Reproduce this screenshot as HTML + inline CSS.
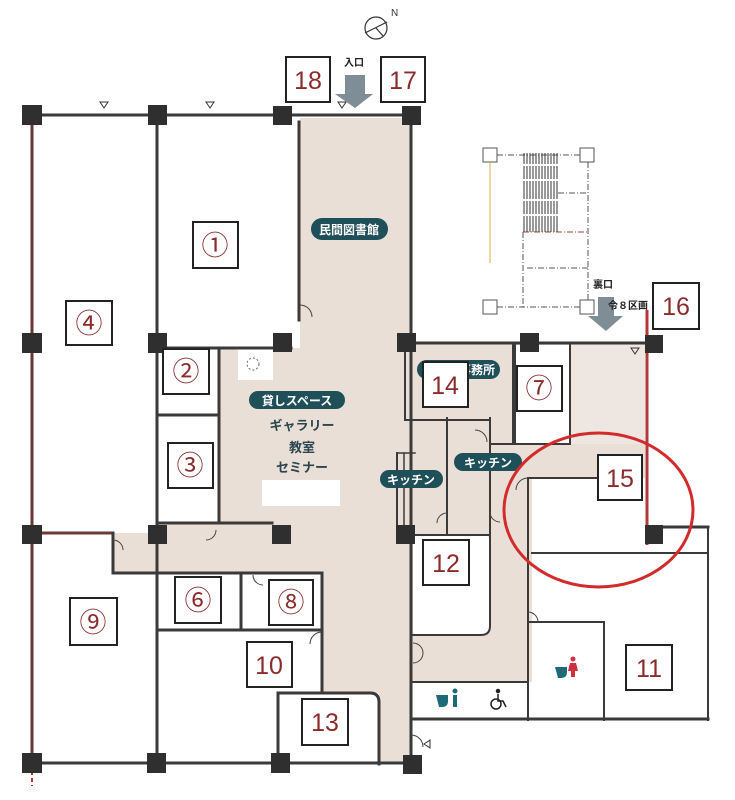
<!DOCTYPE html>
<html><head><meta charset="utf-8"><style>
html,body{margin:0;padding:0;background:#fff;}
svg{display:block;}
.num{font-family:"Liberation Sans",sans-serif;font-size:25px;fill:#8a2c2c;text-anchor:middle;}
.cir{font-family:"Noto Sans CJK JP","DejaVu Sans",sans-serif;font-size:27px;fill:#8a2c2c;text-anchor:middle;}
.pill{font-family:"Liberation Sans","Noto Sans CJK JP",sans-serif;font-size:12px;font-weight:bold;fill:#fff;text-anchor:middle;}
.jt{font-family:"Liberation Sans","Noto Sans CJK JP",sans-serif;font-size:13px;font-weight:bold;fill:#2c4650;text-anchor:middle;}
.sm{font-family:"Liberation Sans","Noto Sans CJK JP",sans-serif;font-size:10px;font-weight:bold;fill:#222;text-anchor:middle;}
</style></head><body>
<svg width="735" height="800" viewBox="0 0 735 800" xmlns="http://www.w3.org/2000/svg">
<rect width="735" height="800" fill="#fff"/>
<!-- beige areas -->
<g fill="#e9dfd7">
<polygon points="300,118 411,118 411,764 379,764 379,693 322,693 322,574 113,574 113,533 157,533 157,523 220,523 220,348 300,348"/>
<rect x="411" y="343" width="121" height="339"/>
<rect x="490" y="343" width="155" height="135"/>
</g>
<!-- white rooms on right -->
<g fill="#fff">
<rect x="515" y="345" width="55" height="99"/>
<rect x="413" y="535" width="76" height="100" rx="4"/>
<rect x="413" y="682" width="115" height="36"/>
<rect x="532" y="478" width="113" height="242"/>
<rect x="238" y="349" width="35" height="31"/>
<rect x="262" y="480" width="78" height="26"/>
</g>
<rect x="570" y="345" width="75" height="99" fill="#eee7e1"/>

<!-- walls -->
<g stroke="#3a3a3a" stroke-width="3" fill="none" stroke-linecap="square">
<line x1="32" y1="115" x2="411" y2="115"/>
<line x1="157" y1="115" x2="157" y2="764"/>
<line x1="299" y1="122" x2="299" y2="320"/>
<line x1="411" y1="115" x2="411" y2="764"/>
<line x1="157" y1="348" x2="291" y2="348"/>
<line x1="219" y1="348" x2="219" y2="522"/>
<line x1="157" y1="415" x2="219" y2="415"/>
<line x1="157" y1="523" x2="272" y2="523"/>
<line x1="42" y1="533" x2="113" y2="533" stroke="#6b3a3a"/>
<line x1="113" y1="533" x2="113" y2="573"/>
<line x1="113" y1="573" x2="322" y2="573"/>
<line x1="322" y1="573" x2="322" y2="692"/>
<line x1="157" y1="630" x2="322" y2="630"/>
<line x1="241" y1="573" x2="241" y2="630"/>
<path d="M278,764 V693 H370 Q379,693 379,702 V764"/>
<line x1="32" y1="763" x2="411" y2="763"/>
<line x1="411" y1="343" x2="645" y2="343"/>
<line x1="405" y1="345" x2="405" y2="420" stroke-width="2"/>
<line x1="405" y1="420" x2="490" y2="420" stroke-width="2"/>
<line x1="513" y1="345" x2="513" y2="444" stroke-width="2"/>
<line x1="515" y1="345" x2="515" y2="444" stroke-width="2"/>
<line x1="570" y1="345" x2="570" y2="444" stroke-width="2"/>
<line x1="490" y1="444" x2="570" y2="444" stroke-width="2"/>
<line x1="447" y1="418" x2="447" y2="535" stroke-width="2"/>
<path d="M490,418 V626 Q490,635 481,635 H413" stroke-width="2"/>
<line x1="413" y1="535" x2="490" y2="535" stroke-width="2"/>
<line x1="413" y1="682" x2="528" y2="682" stroke-width="2"/>
<line x1="528" y1="478" x2="528" y2="720" stroke-width="2"/>
<line x1="528" y1="478" x2="598" y2="478" stroke-width="2"/>
<line x1="528" y1="622" x2="604" y2="622" stroke-width="2"/>
<line x1="604" y1="622" x2="604" y2="720" stroke-width="2"/>
<line x1="413" y1="719" x2="708" y2="719"/>
<line x1="663" y1="527" x2="708" y2="527"/>
<line x1="708" y1="527" x2="708" y2="720" stroke-width="2"/>
<line x1="532" y1="553" x2="708" y2="553" stroke-width="2"/>
<line x1="397" y1="453" x2="397" y2="533" stroke-width="2"/>
<line x1="404" y1="453" x2="404" y2="533" stroke-width="1.5"/>
<line x1="397" y1="453" x2="415" y2="453" stroke-width="1.5"/>
</g>
<!-- left red wall -->
<line x1="32" y1="110" x2="32" y2="764" stroke="#6b3535" stroke-width="3"/>
<line x1="32" y1="764" x2="32" y2="786" stroke="#c03030" stroke-width="2" stroke-dasharray="4,3"/>
<line x1="647" y1="310" x2="647" y2="545" stroke="#b03a3a" stroke-width="3"/>
<line x1="647" y1="310" x2="647" y2="330" stroke="#c03030" stroke-width="2" stroke-dasharray="3,3"/>

<!-- doors -->
<g stroke="#444" stroke-width="1" fill="none">
<path d="M300,305 A12,12 0 0 1 312,317"/>
<path d="M216,530 A10,10 0 0 1 206,540"/>
<path d="M113,540 A10,10 0 0 1 123,550"/>
<path d="M253,575 A10,10 0 0 0 263,585"/>
<path d="M322,632 A12,12 0 0 0 310,644"/>
<path d="M490,512 A10,10 0 0 0 500,522"/>
<path d="M447,513 A10,10 0 0 0 437,523"/>
<path d="M528,478 A12,12 0 0 0 516,490"/>
<path d="M528,612 A10,10 0 0 1 538,622"/>
<path d="M411,735 A12,12 0 0 1 423,747"/>
<path d="M413,643 A10,10 0 0 1 413,663"/>
<path d="M475,430 A12,12 0 0 1 487,442"/>
</g>
<circle cx="253" cy="364" r="6" fill="none" stroke="#666" stroke-dasharray="2,2"/>

<!-- columns -->
<g fill="#2f2f2f">
<rect x="22" y="105" width="20" height="20"/><rect x="148" y="105" width="19" height="20"/><rect x="273" y="106" width="19" height="19"/><rect x="402" y="106" width="19" height="19"/>
<rect x="22" y="333" width="20" height="20"/><rect x="148" y="333" width="19" height="20"/><rect x="273" y="333" width="19" height="19"/><rect x="397" y="333" width="19" height="19"/>
<rect x="520" y="333" width="19" height="19"/><rect x="645" y="335" width="18" height="18"/>
<rect x="22" y="525" width="20" height="19"/><rect x="148" y="525" width="19" height="19"/><rect x="272" y="525" width="19" height="19"/><rect x="396" y="525" width="19" height="19"/>
<rect x="645" y="525" width="18" height="19"/>
<rect x="22" y="753" width="20" height="20"/><rect x="147" y="753" width="19" height="20"/><rect x="271" y="753" width="19" height="20"/><rect x="403" y="755" width="19" height="19"/>
</g>

<!-- triangles top -->
<g fill="none" stroke="#333" stroke-width="1">
<path d="M100,102 L108,102 L104,108 Z"/><path d="M206,102 L214,102 L210,108 Z"/><path d="M338,102 L346,102 L342,108 Z"/>
<path d="M631,348 L639,348 L635,354 Z"/><path d="M430,740 L430,748 L424,744 Z"/>
</g>

<!-- stairs -->
<g fill="none" stroke="#555" stroke-width="1">
<rect x="483" y="148" width="14" height="14"/><rect x="580" y="148" width="14" height="14"/>
<rect x="483" y="300" width="14" height="14"/><rect x="580" y="300" width="14" height="14"/>
<line x1="497" y1="155" x2="580" y2="155" stroke-dasharray="6,2,1,2"/>
<line x1="588" y1="162" x2="588" y2="300" stroke-dasharray="6,2,1,2"/>
<line x1="497" y1="307" x2="580" y2="307" stroke-dasharray="6,2,1,2"/>
<line x1="523" y1="232" x2="523" y2="307" stroke-dasharray="6,2,1,2"/>
<line x1="558" y1="193" x2="588" y2="193" stroke-dasharray="6,2,1,2"/>
<line x1="523" y1="232" x2="588" y2="232" stroke="#a04040" stroke-dasharray="6,2,1,2"/>
<line x1="527" y1="268" x2="588" y2="268" stroke-dasharray="6,2,1,2"/>
<line x1="490" y1="162" x2="490" y2="263" stroke="#d4b040"/>
</g>
<g stroke="#333" stroke-width="1">
<line x1="524" y1="153" x2="524" y2="232"/><line x1="527" y1="153" x2="527" y2="232"/><line x1="530" y1="153" x2="530" y2="232"/><line x1="533" y1="153" x2="533" y2="232"/><line x1="536" y1="153" x2="536" y2="232"/><line x1="539" y1="153" x2="539" y2="232"/><line x1="542" y1="153" x2="542" y2="232"/><line x1="545" y1="153" x2="545" y2="232"/><line x1="548" y1="153" x2="548" y2="232"/><line x1="551" y1="153" x2="551" y2="232"/><line x1="554" y1="153" x2="554" y2="232"/><line x1="557" y1="153" x2="557" y2="232"/>
</g>
<g stroke="#fff" stroke-width="2">
<line x1="522" y1="165" x2="560" y2="165"/><line x1="522" y1="180" x2="560" y2="180"/><line x1="522" y1="200" x2="560" y2="200"/><line x1="522" y1="215" x2="560" y2="215"/>
</g>

<!-- compass -->
<g stroke="#333" stroke-width="1.2" fill="none">
<circle cx="376" cy="28" r="11"/><line x1="365" y1="33" x2="387" y2="22"/><line x1="376" y1="28" x2="383" y2="36"/>
</g>
<text x="391" y="16" font-family="Liberation Sans" font-size="10" fill="#333">N</text>

<!-- arrows -->
<g fill="#7e8d96">
<polygon points="345,75 365,75 365,94 373,94 355,108 335,94 345,94"/>
<polygon points="598,297 614,297 614,316 623,316 606,331 588,316 598,316"/>
</g>
<text x="354" y="66" class="sm">入口</text>
<text x="603" y="288" class="sm">裏口</text>
<text x="628" y="309" class="sm" font-size="9">令８区画</text>

<!-- pills -->
<g fill="#1f4f58">
<rect x="311" y="218" width="77" height="22" rx="11"/>
<rect x="249" y="391" width="96" height="18" rx="9"/>
<rect x="417" y="360" width="83" height="19" rx="9.5"/>
<rect x="380" y="470" width="63" height="18" rx="9"/>
<rect x="454" y="453" width="68" height="18" rx="9"/>
</g>
<text x="349" y="234" class="pill">民間図書館</text>
<text x="297" y="405" class="pill">貸しスペース</text>
<text x="477" y="374" class="pill">事務所</text>
<text x="411" y="484" class="pill">キッチン</text>
<text x="488" y="467" class="pill">キッチン</text>
<text x="302" y="430" class="jt">ギャラリー</text>
<text x="302" y="452" class="jt">教室</text>
<text x="302" y="472" class="jt">セミナー</text>

<!-- red ellipse -->
<ellipse cx="598.5" cy="510" rx="94.5" ry="77" fill="none" stroke="#d22b2b" stroke-width="3"/>

<!-- toilet icons -->
<g fill="#1f6a78">
<path d="M436,695 h12 v6 q0,6 -6,6 h-3 z"/><rect x="453" y="695" width="4" height="12"/><circle cx="455" cy="691" r="2.5"/>
<path d="M555,667 h12 v5 q0,6 -6,6 h-3 z"/>
</g>
<g fill="#d03040"><circle cx="573" cy="659" r="2.5"/><path d="M570,663 h6 l2,8 h-3 v6 h-4 v-6 h-3 z"/></g>
<g fill="none" stroke="#222" stroke-width="1.5"><circle cx="496" cy="704" r="5"/><circle cx="498" cy="691" r="1.5" fill="#222"/><path d="M498,694 v7 h5 l3,6"/></g>

<!-- number boxes -->
<g fill="#fff" stroke="#222" stroke-width="2">
<rect x="286" y="57" width="44" height="45"/><rect x="381" y="57" width="44" height="45"/>
<rect x="193" y="222" width="45" height="46"/><rect x="66" y="301" width="46" height="44"/>
<rect x="163" y="349" width="46" height="45"/><rect x="168" y="443" width="45" height="45"/>
<rect x="423" y="362" width="45" height="45"/><rect x="517" y="366" width="45" height="45"/>
<rect x="653" y="283" width="46" height="46"/><rect x="598" y="455" width="44" height="45"/>
<rect x="423" y="540" width="46" height="45"/><rect x="70" y="598" width="47" height="47"/>
<rect x="175" y="577" width="46" height="46"/><rect x="269" y="580" width="44" height="45"/>
<rect x="247" y="642" width="45" height="45"/><rect x="302" y="699" width="46" height="46"/>
<rect x="626" y="645" width="46" height="45"/>
</g>
<text x="308" y="89" class="num">18</text>
<text x="403" y="89" class="num">17</text>
<text x="676" y="315" class="num">16</text>
<text x="445" y="394" class="num">14</text>
<text x="620" y="487" class="num">15</text>
<text x="446" y="572" class="num">12</text>
<text x="269" y="674" class="num">10</text>
<text x="325" y="731" class="num">13</text>
<text x="649" y="677" class="num">11</text>
<text x="215" y="255" class="cir">①</text>
<text x="89" y="333" class="cir">④</text>
<text x="186" y="381" class="cir">②</text>
<text x="190" y="475" class="cir">③</text>
<text x="539" y="398" class="cir">⑦</text>
<text x="93" y="632" class="cir">⑨</text>
<text x="198" y="610" class="cir">⑥</text>
<text x="291" y="612" class="cir">⑧</text>
</svg>
</body></html>
